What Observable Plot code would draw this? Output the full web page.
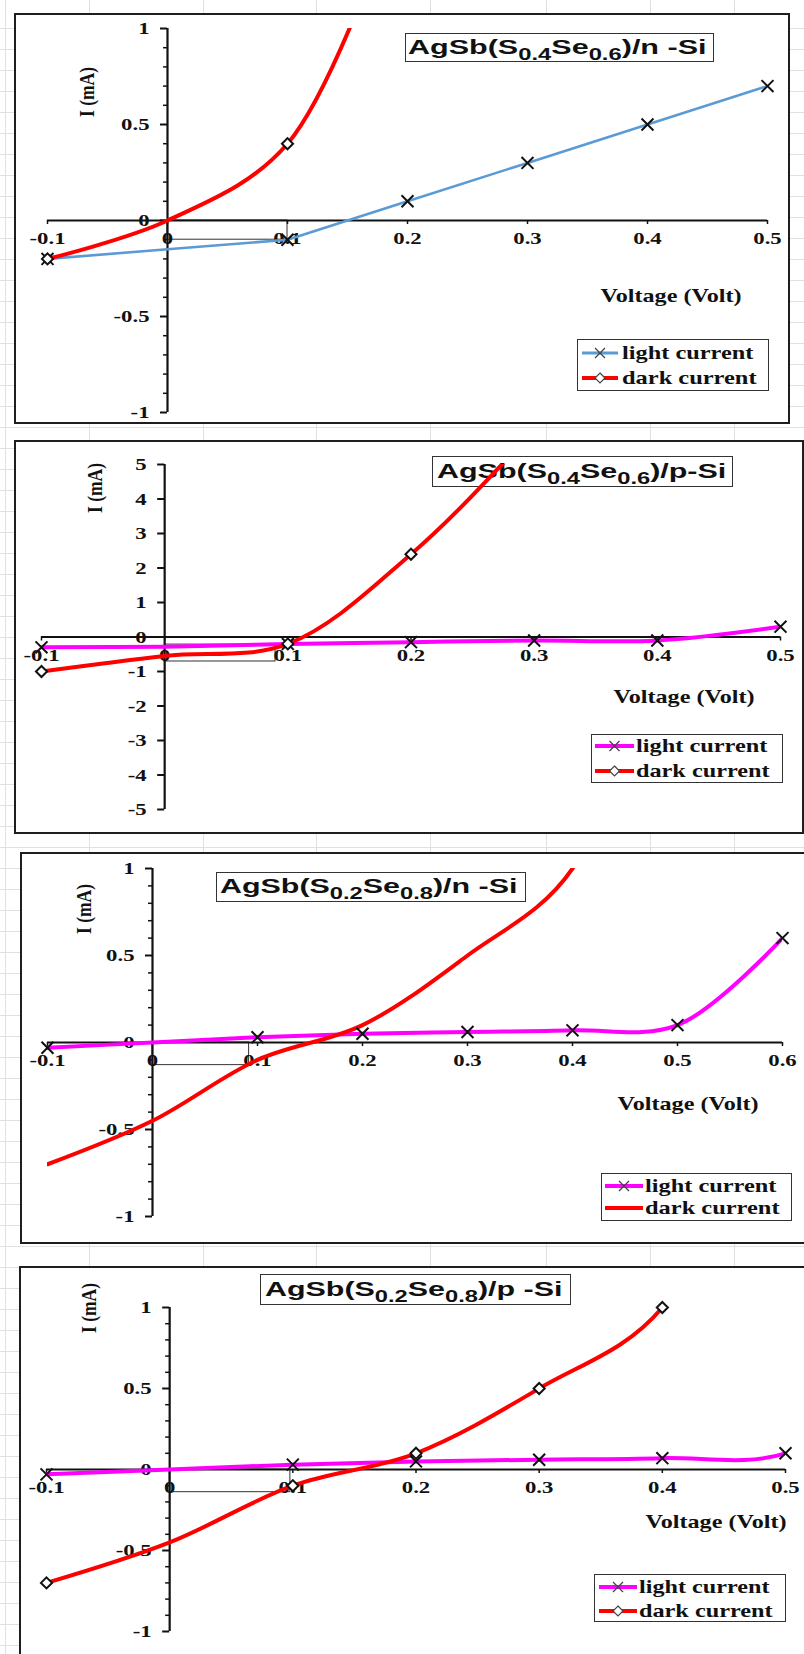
<!DOCTYPE html>
<html>
<head>
<meta charset="utf-8">
<script src="https://cdn.jsdelivr.net/npm/d3@7"></script>
<script src="https://cdn.jsdelivr.net/npm/@observablehq/plot@0.6"></script>
<style>
  html,body{margin:0;padding:0;}
  body{width:804px;height:1654px;position:relative;overflow:hidden;background-color:#fff;
    background-image:repeating-linear-gradient(to bottom, transparent 0px, transparent 20px, #e0e0e0 20px, #e0e0e0 21px);
    background-position:0 8px;}
  .col{position:absolute;top:0;width:1px;height:1654px;background:#e0e0e0;}
  .frame{position:absolute;box-sizing:border-box;border:2px solid #1e1e1e;background:#fff;}
  .box{position:absolute;box-sizing:border-box;border:1.3px solid #333;background:#fff;}
  .ttext{position:absolute;white-space:nowrap;font-family:'Liberation Sans',Arial,sans-serif;font-weight:bold;font-size:21px;line-height:1;transform-origin:0 50%;color:#111;}
  .ttext sub{font-size:0.78em;vertical-align:-0.34em;line-height:0;}
  .ltext{position:absolute;white-space:nowrap;font-family:'Liberation Serif','Times New Roman',serif;font-weight:bold;font-size:19px;line-height:1;transform-origin:0 50%;color:#111;}
  .axlab{position:absolute;white-space:nowrap;font-family:'Liberation Serif','Times New Roman',serif;font-weight:bold;line-height:1;color:#111;}
  .plotwrap{position:absolute;pointer-events:none;}
  .plotwrap svg{overflow:visible;}
</style>
</head>
<body>
<script>
// ---------------- DATA ----------------
const voltage = [-0.1, 0, 0.1, 0.2, 0.3, 0.4, 0.5, 0.6];

// Panel 1: AgSb(S0.4Se0.6)/n-Si
const p1Light = [-0.2, -0.15, -0.1, 0.1, 0.3, 0.5, 0.7];
const p1Dark  = [-0.2, 0, 0.4, 1.8];
// Panel 2: AgSb(S0.4Se0.6)/p-Si
const p2Light = [-0.3, -0.28, -0.2, -0.15, -0.1, -0.1, 0.3];
const p2Dark  = [-1.0, -0.55, -0.2, 2.4, 6.0, 10.0];
// Panel 3: AgSb(S0.2Se0.8)/n-Si
const p3Light = [-0.03, 0, 0.03, 0.05, 0.06, 0.07, 0.1, 0.6];
const p3Dark  = [-0.7, -0.45, -0.1, 0.1, 0.5, 1.0, 2.8];
// Panel 4: AgSb(S0.2Se0.8)/p-Si
const p4Light = [-0.03, 0, 0.03, 0.05, 0.06, 0.07, 0.1, 0.6];
const p4Dark  = [-0.7, -0.45, -0.1, 0.1, 0.5, 1.0, 2.8];

// tick values
const xTicksA = [-0.1, 0, 0.1, 0.2, 0.3, 0.4, 0.5];
const xTicksB = [-0.1, 0, 0.1, 0.2, 0.3, 0.4, 0.5, 0.6];
const yMajorA = [-1, -0.5, 0, 0.5, 1];
const yMinorA = [-0.9, -0.8, -0.7, -0.6, -0.4, -0.3, -0.2, -0.1, 0.1, 0.2, 0.3, 0.4, 0.6, 0.7, 0.8, 0.9];
const yMajorB = [-5, -4, -3, -2, -1, 0, 1, 2, 3, 4, 5];

// stray drawing boxes present in the original (data units)
const stray1 = [{x1: 0, x2: 0.1, y1: -0.1, y2: 0}];
const stray2 = [{x1: 0, x2: 0.09, y1: -0.71, y2: -0.22}];
const stray3 = [{x1: 0, x2: 0.092, y1: -0.13, y2: 0}];
const stray4 = [{x1: 0, x2: 0.098, y1: -0.14, y2: 0}];

// texts
const titles = [
  "AgSb(S<sub>0.4</sub>Se<sub>0.6</sub>)/n -Si",
  "AgSb(S<sub>0.4</sub>Se<sub>0.6</sub>)/p-Si",
  "AgSb(S<sub>0.2</sub>Se<sub>0.8</sub>)/n -Si",
  "AgSb(S<sub>0.2</sub>Se<sub>0.8</sub>)/p -Si"
];
const seriesNames = ["light current", "dark current"];
const yLabel = "I (mA)";
const xLabel = "Voltage (Volt)";

// ---------------- STYLE / LAYOUT ----------------
const serif = "'Liberation Serif','Times New Roman',serif";
const RED = "#ff0000", MAGENTA = "#ff00ff", BLUE = "#5b9bd5";
const gridCols = [5, 89, 203, 316, 430, 546, 650, 734];

const panels = [
  {light: p1Light, dark: p1Dark, lightColor: BLUE, lightWidth: 2.6, lightCurve: "linear", darkMarker: true,
   xDomain: [-0.1, 0.5], yDomain: [-1, 1], xTicks: xTicksA, yMajor: yMajorA, yMinor: yMinorA, stray: stray1,
   frame: [14, 13, 790, 424], svgBottom: 424, xPx: [47, 767], yPx: [412, 28],
   tbox: [405, 33, 714, 62], tx: 408, tw: 298,
   ylab: [88, 92], xlab: [671, 295],
   lbox: [577, 339, 769, 391], sw: [582, 618], rows: [353, 378], ltx: 622, ltw: [132, 135]},
  {light: p2Light, dark: p2Dark, lightColor: MAGENTA, lightWidth: 4, lightCurve: "catmull-rom", darkMarker: true,
   xDomain: [-0.1, 0.5], yDomain: [-5, 5], xTicks: xTicksA, yMajor: yMajorB, yMinor: [], stray: stray2,
   frame: [14, 440, 804, 834], svgBottom: 834, xPx: [41, 780], yPx: [809, 464],
   tbox: [432, 456, 733, 487], tx: 437, tw: 290,
   ylab: [96, 488], xlab: [684, 696],
   lbox: [591, 734, 783, 783], sw: [595, 634], rows: [746, 771], ltx: 636, ltw: [132, 134]},
  {light: p3Light, dark: p3Dark, lightColor: MAGENTA, lightWidth: 4, lightCurve: "catmull-rom", darkMarker: false,
   xDomain: [-0.1, 0.6], yDomain: [-1, 1], xTicks: xTicksB, yMajor: yMajorA, yMinor: yMinorA, stray: stray3,
   frame: [20, 852, 806, 1244], svgBottom: 1244, xPx: [47, 782], yPx: [1216, 868],
   tbox: [216, 872, 526, 902], tx: 220, tw: 297,
   ylab: [85, 909], xlab: [688, 1103],
   lbox: [601, 1173, 792, 1221], sw: [605, 643], rows: [1186, 1208], ltx: 645, ltw: [132, 135]},
  {light: p4Light, dark: p4Dark, lightColor: MAGENTA, lightWidth: 4, lightCurve: "catmull-rom", darkMarker: true,
   xDomain: [-0.1, 0.5], yDomain: [-1, 1], xTicks: xTicksA, yMajor: yMajorA, yMinor: yMinorA, stray: stray4,
   frame: [19, 1266, 806, 1662], svgBottom: 1654, xPx: [46, 785], yPx: [1631, 1307],
   tbox: [260, 1274, 571, 1305], tx: 265, tw: 297,
   ylab: [90, 1308], xlab: [716, 1521],
   lbox: [594, 1574, 786, 1622], sw: [599, 637], rows: [1587, 1611], ltx: 639, ltw: [131, 134]}
];

// ---------------- HELPERS ----------------
const body = document.body;
function div(cls, css, html) {
  const d = document.createElement("div");
  d.className = cls;
  Object.assign(d.style, css);
  if (html != null) d.innerHTML = html;
  body.appendChild(d);
  return d;
}
function series(xs, ys) { return ys.map((y, i) => ({x: xs[i], y})); }

function swatch(x0, x1, y, color, width, marker) {
  const NS = "http://www.w3.org/2000/svg";
  const s = document.createElementNS(NS, "svg");
  const w = x1 - x0;
  s.setAttribute("width", w + 12);
  s.setAttribute("height", 16);
  s.setAttribute("style", `position:absolute;left:${x0 - 6}px;top:${y - 8}px;overflow:visible`);
  const ln = document.createElementNS(NS, "line");
  ln.setAttribute("x1", 6); ln.setAttribute("x2", 6 + w);
  ln.setAttribute("y1", 8); ln.setAttribute("y2", 8);
  ln.setAttribute("stroke", color); ln.setAttribute("stroke-width", width);
  s.appendChild(ln);
  if (marker) {
    const p = document.createElementNS(NS, "path");
    const cx = 6 + w / 2;
    if (marker === "times") {
      p.setAttribute("d", `M${cx - 5},3L${cx + 5},13M${cx - 5},13L${cx + 5},3`);
      p.setAttribute("stroke", "#444"); p.setAttribute("stroke-width", 1.3); p.setAttribute("fill", "none");
    } else {
      p.setAttribute("d", `M${cx},3L${cx + 5},8L${cx},13L${cx - 5},8Z`);
      p.setAttribute("stroke", "#444"); p.setAttribute("stroke-width", 1.2); p.setAttribute("fill", "#fff");
    }
    s.appendChild(p);
  }
  body.appendChild(s);
}

// ---------------- BACKGROUND GRID ----------------
gridCols.forEach(x => div("col", {left: x + "px"}));

// ---------------- PANELS ----------------
panels.forEach((P, k) => {
  const [fl, ft, fr, fb] = P.frame;
  // frame
  div("frame", {left: fl + "px", top: ft + "px", width: (fr - fl) + "px", height: (fb - ft) + "px"});

  // title box
  const [bl, bt, br, bb] = P.tbox;
  div("box", {left: bl + "px", top: bt + "px", width: (br - bl) + "px", height: (bb - bt) + "px"});
  const tt = div("ttext", {left: P.tx + "px", top: ((bt + bb) / 2) + "px"}, titles[k]);
  tt.style.transform = `translateY(-55%) scaleX(${P.tw / tt.offsetWidth})`;

  // legend
  const [ll, lt, lr, lb] = P.lbox;
  div("box", {left: ll + "px", top: lt + "px", width: (lr - ll) + "px", height: (lb - lt) + "px"});
  swatch(P.sw[0], P.sw[1], P.rows[0], P.lightColor, P.lightWidth === 4 ? 4 : 3, "times");
  swatch(P.sw[0], P.sw[1], P.rows[1], RED, 4, P.darkMarker ? "diamond" : null);
  seriesNames.forEach((name, i) => {
    const t = div("ltext", {left: P.ltx + "px", top: P.rows[i] + "px"}, name);
    t.style.transform = `translateY(-55%) scaleX(${P.ltw[i] / t.offsetWidth})`;
  });

  // plot
  const W = fr - fl, H = P.svgBottom - ft;
  const lightData = series(voltage, P.light);
  const darkData = series(voltage, P.dark);
  const visible = d => d.x !== 0 && d.x >= P.xDomain[0] - 1e-9 && d.x <= P.xDomain[1] + 1e-9 &&
                       d.y >= P.yDomain[0] && d.y <= P.yDomain[1];
  const axisStroke = "#111";
  const tickText = {fontFamily: serif, fontWeight: "bold", fontSize: 17.5, fill: "#111"};
  const svg = Plot.plot({
    width: W, height: H,
    marginLeft: P.xPx[0] - fl, marginRight: fr - P.xPx[1],
    marginTop: P.yPx[1] - ft, marginBottom: P.svgBottom - P.yPx[0],
    x: {domain: P.xDomain, axis: null},
    y: {domain: P.yDomain, axis: null},
    style: {background: "transparent", overflow: "visible"},
    marks: [
      Plot.rect(P.stray, {x1: "x1", x2: "x2", y1: "y1", y2: "y2", fill: "none", stroke: "#333", strokeWidth: 1}),
      Plot.ruleY([0], {x1: P.xDomain[0], x2: P.xDomain[1], stroke: axisStroke, strokeWidth: 2}),
      Plot.ruleX([0], {y1: P.yDomain[0], y2: P.yDomain[1], stroke: axisStroke, strokeWidth: 2.2}),
      Plot.ruleY(P.yMajor, {y: d => d, x1: 0, x2: 0, insetLeft: -7, stroke: axisStroke, strokeWidth: 2}),
      Plot.ruleY(P.yMinor, {y: d => d, x1: 0, x2: 0, insetLeft: -4, stroke: axisStroke, strokeWidth: 1.5}),
      Plot.ruleX(P.xTicks, {x: d => d, y1: 0, y2: 0, insetBottom: -4, stroke: axisStroke, strokeWidth: 1.5}),
      Plot.text(P.yMajor, {x: 0, y: d => d, text: d => String(d), textAnchor: "end", dx: -18, ...tickText}),
      Plot.text(P.xTicks, {x: d => d, y: 0, text: d => String(d), dy: 18, ...tickText}),
      Plot.line(lightData, {x: "x", y: "y", stroke: P.lightColor, strokeWidth: P.lightWidth, curve: P.lightCurve, clip: true}),
      Plot.line(darkData, {x: "x", y: "y", stroke: RED, strokeWidth: 4, curve: "catmull-rom", clip: true}),
      Plot.dot(lightData, {x: "x", y: "y", filter: visible, symbol: "times", r: 5.5, stroke: "#111", strokeWidth: 2}),
      P.darkMarker ? Plot.dot(darkData, {x: "x", y: "y", filter: visible, symbol: "diamond2", r: 5, fill: "#fff", stroke: "#111", strokeWidth: 2}) : null
    ]
  });
  const wrap = div("plotwrap", {left: fl + "px", top: ft + "px", width: W + "px", height: H + "px"});
  wrap.appendChild(svg);
  // horizontal stretch of tick labels (the original picture is stretched sideways)
  svg.querySelectorAll("text").forEach(t => {
    const L = t.getComputedTextLength();
    if (L > 0) {
      t.setAttribute("textLength", (L * 1.3).toFixed(2));
      t.setAttribute("lengthAdjust", "spacingAndGlyphs");
    }
  });

  // axis titles
  const yl = div("axlab", {left: P.ylab[0] + "px", top: P.ylab[1] + "px", fontSize: "17.5px"}, yLabel);
  yl.style.transform = "translate(-50%,-50%) rotate(-90deg) scaleY(1.2)";
  const xl = div("axlab", {left: P.xlab[0] + "px", top: P.xlab[1] + "px", fontSize: "19px"}, xLabel);
  xl.style.transform = `translate(-50%,-50%) scaleX(${141 / xl.offsetWidth})`;
});
</script>
</body>
</html>
